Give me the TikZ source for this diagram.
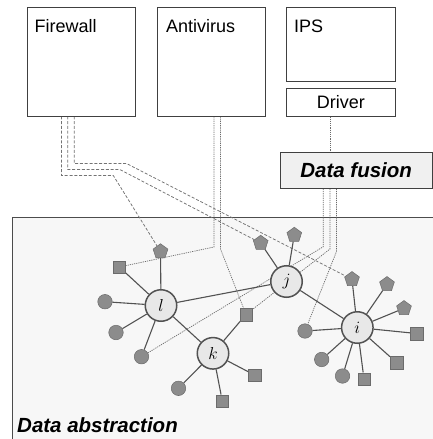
\documentclass[tikz,border=0pt]{standalone}
\usepackage{fontspec}
\setmainfont{Liberation Sans}
\usetikzlibrary{shapes.geometric,backgrounds,calc}
\tikzset{
 box/.style={draw=black!75, line width=0.8pt, inner sep=0, anchor=north west},
 lbl/.style={font=\fontsize{18}{20}\selectfont, anchor=base west, inner sep=0},
 bold/.style={font=\fontsize{20.5}{22}\selectfont\bfseries\itshape},
 hub/.style={circle, draw=black!68, fill=black!9, line width=1.5pt, minimum size=31.5pt, inner sep=0, font=\fontsize{17.28}{18}\selectfont},
 leaf/.style={fill=black!45, draw=black!58, line width=0.5pt, inner sep=0},
 lc/.style={leaf, circle, minimum size=14.5pt},
 lsq/.style={leaf, rectangle, minimum size=12.5pt},
 lpent/.style={leaf, regular polygon, regular polygon sides=5, minimum size=15.5pt},
 hubedge/.style={draw=black!68, line width=1.1pt},
 fwl/.style={draw=black!55, line width=0.75pt, dash pattern=on 3pt off 1.8pt},
 dtl/.style={draw=black!58, line width=0.7pt, dash pattern=on 1.2pt off 1pt},
}
\begin{document}
\begin{tikzpicture}[x=1pt,y=-1pt]
\useasboundingbox (0,0) rectangle (433,439);

% boxes
\node[box, minimum width=108pt, minimum height=108.5pt] (fw) at (27,7) {};
\node[lbl] (fwt) at (34.5,32) {Firewall};
\node[box, minimum width=108pt, minimum height=108.5pt] (av) at (157,7) {};
\node[lbl] (avt) at (166,32) {Antivirus};
\node[box, minimum width=109pt, minimum height=74pt] (ips) at (286,7) {};
\node[lbl] (ipst) at (294,32) {IPS};
\node[box, minimum width=109pt, minimum height=27.5pt, font=\fontsize{18}{20}\selectfont] (drv) at (286,88) {Driver};
\node[box, fill=black!6, minimum width=151.5pt, minimum height=36pt, bold] (fus) at (280,152) {Data fusion};

% abstraction region
\begin{pgfonlayer}{background}
\fill[black!3] (12,217) rectangle (433,439);
\draw[black!70, line width=0.9pt] (433,217) -- (12,217) -- (12,439);
\end{pgfonlayer}
\node[anchor=base west, inner sep=0, bold] (abs) at (17,432) {Data abstraction};

% hubs
\node[hub] (l) at (161,305.5) {$l$};
\node[hub] (j) at (286.5,281.5) {$j$};
\node[hub] (k) at (213,353.3) {$k$};
\node[hub] (i) at (357.3,327.5) {$i$};

% leaves of l
\node[lpent] (lP) at (160.5,251.5) {};
\node[lsq] (lS) at (119.3,267) {};
\node[lc] (lC1) at (105,301.7) {};
\node[lc] (lC2) at (116,332.5) {};
\node[lc] (lC3) at (141.5,356.7) {};
% leaves of k
\node[lsq] (kS1) at (246,314.5) {};
\node[lsq] (kS2) at (254.5,375) {};
\node[lsq] (kS3) at (222.3,401) {};
\node[lc] (kC) at (178.5,388.3) {};
% leaves of j
\node[lpent] (jP1) at (260.7,243) {};
\node[lpent] (jP2) at (294.3,235) {};
% leaves of i
\node[lpent] (iP1) at (352,279.3) {};
\node[lpent] (iP2) at (387,284.3) {};
\node[lpent] (iP3) at (404,308.3) {};
\node[lsq] (iS1) at (416.5,333.5) {};
\node[lsq] (iS2) at (396.5,362.5) {};
\node[lsq] (iS3) at (364,379) {};
\node[lc] (iC1) at (305,331) {};
\node[lc] (iC2) at (321.7,359.5) {};
\node[lc] (iC3) at (342.5,376) {};

% bend points
\coordinate (f1) at (113.3,175.5);
\coordinate (f2) at (119.8,169.5);
\coordinate (f3) at (126.5,163.5);
\coordinate (a1) at (214,247);
\coordinate (a2) at (220.5,249);
\coordinate (d1) at (323.3,246.7);
\coordinate (d2) at (330,249);
\coordinate (d3) at (336.5,251.5);

\begin{pgfonlayer}{background}
% firewall
\draw[fwl] ($(fw.south west)+(34.5,0)$) |- (f1) -- (lP);
\draw[fwl] ($(fw.south west)+(40.8,0)$) |- (f2) -- (jP1);
\draw[fwl] ($(fw.south west)+(47.3,0)$) |- (f3) -- (iP1);
% antivirus
\draw[dtl] ($(av.south west)+(57,0)$) -- (a1) -- (lS);
\draw[dtl] ($(av.south west)+(63.5,0)$) -- (a2) -- (kS1);
% driver to fusion
\draw[dtl] ($(drv.south west)+(44,0)$) -- ($(fus.north west)+(50,0)$);
% fusion
\draw[dtl] ($(fus.south west)+(43.3,0)$) -- (d1) -- (lC3);
\draw[dtl] ($(fus.south west)+(50,0)$) -- (d2) -- (kS1);
\draw[dtl] ($(fus.south west)+(56.5,0)$) -- (d3) -- (iC1);
% hub edges
\draw[hubedge] (l) -- (j);
\draw[hubedge] (l) -- (k);
\draw[hubedge] (j) -- (i);
\foreach \n in {lP,lS,lC1,lC2,lC3} \draw[hubedge] (l) -- (\n);
\foreach \n in {kS1,kS2,kS3,kC} \draw[hubedge] (k) -- (\n);
\foreach \n in {jP1,jP2} \draw[hubedge] (j) -- (\n);
\foreach \n in {iP1,iP2,iP3,iS1,iS2,iS3,iC1,iC2,iC3} \draw[hubedge] (i) -- (\n);
\end{pgfonlayer}
\end{tikzpicture}
\end{document}
